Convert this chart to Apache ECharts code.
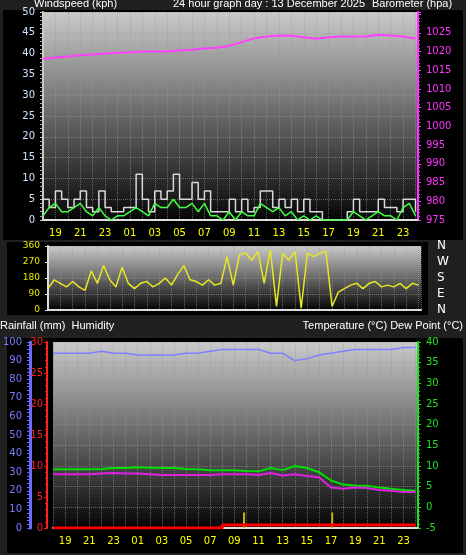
<!DOCTYPE html>
<html><head><meta charset="utf-8">
<script src="https://cdn.jsdelivr.net/npm/echarts@6/dist/echarts.min.js"></script>
<style>html,body{margin:0;background:#202020}#c{width:466px;height:555px}</style>
</head><body><div id="c"></div>
<script>
// hourly series, 18:00 day before .. 24:00
const baro = [1018,1018.4,1018.7,1019,1019.2,1019.5,1019.7,1019.8,1020,1020,1020,1020.3,1020.5,1020.8,1021,1021.5,1022.5,1023.5,1024,1024.3,1024.2,1023.8,1023.4,1023.8,1024,1024,1024,1024.5,1024.3,1024,1023.5];
const humidity = [94,94,94,94,95,94,94,93,93,93,93,94,94,95,96,96,96,96,94,94,90,91,93,94,95,96,96,96,96,97,97];
const temp = [9.2,9.2,9.2,9.2,9.3,9.5,9.5,9.7,9.6,9.5,9.5,9.3,9.2,9.0,9.0,9.0,8.8,8.7,9.5,9.0,10.0,9.5,8.5,6.5,5.5,5.3,5.2,4.8,4.5,4.2,4.0];
const dew = [8,8,8,8,8.2,8.3,8.2,8.2,8,7.8,7.8,7.8,7.8,7.8,8,8,8,7.8,8.3,7.7,8,7.6,7.3,4.8,4.5,4.8,4.7,4.2,4,3.7,3.7];
const rain = [0,0,0,0,0,0,0,0,0,0,0,0,0,0,0.5,0.5,0.5,0.5,0.5,0.5,0.5,0.5,0.5,0.5,0.5,0.5,0.5,0.5,0.5,0.5,0.5];
const rainRateTimes = [33.8, 41.1];
const rainRate = [2.5, 2.5];
// half-hourly series
const gust = [5,3,7,5,3,5,7,3,2,7,3,2, 2,3,3,11,5,2,7,5,7,11,5,5,9,5,7,2,2,2,5,2,5,2,3,7,7,3,5,3,5,2,5,2,2,0,0,0,0,2,5,2,2,2,5,3,3,2,5,5,2];
const avgWind = [1,3,4,2,2,3,4,2,1,3,1,0, 1,1,2,3,2,1,4,3,3,5,3,3,4,2,4,1,1,0,2,0,2,1,1,4,3,2,3,1,2,0,1,0,1,0,0,0,0,0,2,1,0,1,2,1,1,0,3,4,1];
const windDir = [120,170,150,130,160,130,110,220,150,250,170,130, 240,150,120,150,160,130,150,180,140,200,250,170,160,140,170,140,150,300,140,310,320,280,330,150,340,20,320,280,330,10,320,300,320,330,20,100,120,140,150,120,150,160,130,140,130,150,120,150,140];
const compass = ['N','E','S','W','N'];

const hourly = a => a.map((v, i) => [18 + i, v]);
const halfHourly = a => a.map((v, i) => [18 + i * 0.5, v]);

const bg = {type:'linear',x:0,y:0,x2:0,y2:1,colorStops:[{offset:0,color:'#cacaca'},{offset:1,color:'#050505'}]};
const dotted = {show:true,lineStyle:{color:'rgba(150,150,150,0.6)',type:'dotted'}};
function xAx(grid){
  return {type:'value',gridIndex:grid,min:18,max:48.2,interval:1,
    axisLine:{lineStyle:{color:'#ddd',width:2}},axisTick:{show:false},
    splitLine:dotted,
    axisLabel:{show:grid!==1,color:'#ffff00',fontSize:10,margin:8,
      formatter:v=>{const h=v%24;return (v%2===1)?String(h).padStart(2,'0'):'';}}};
}
function yAx(grid,o){
  return Object.assign({type:'value',gridIndex:grid,splitLine:{show:false},
    axisTick:{show:true,length:3},minorTick:{show:false}},o);
}
const txt = (x,y,t,align) => ({type:'text',left:align==='right'?null:x,right:align==='right'?x:null,top:y,
  style:{text:t,fill:'#fff',font:'11px "Liberation Sans"'}});

const chart = echarts.init(document.getElementById('c'));
chart.setOption({
  backgroundColor:'#202020',
  animation:false,
  textStyle:{fontFamily:'DejaVu Sans'},
  graphic:[
    {type:'rect',shape:{x:3,y:10,width:460,height:230},style:{fill:'#000'},z:-10},
    {type:'rect',shape:{x:7,y:242,width:421,height:73},style:{fill:'#000'},z:-10},
    {type:'rect',shape:{x:7,y:338,width:456,height:215},style:{fill:'#000'},z:-10},
    txt(34,-2,'Windspeed (kph)'),
    txt(173,-2,'24 hour graph day : 13 December 2025'),
    txt(372,-2,'Barometer (hpa)'),
    txt(0,320,'Rainfall (mm)  Humidity'),
    txt(3,320,'Temperature (°C) Dew Point (°C)','right'),
  ],
  grid:[
    {left:43,right:48,top:12,height:208,show:true,backgroundColor:bg,borderWidth:0},
    {left:48,right:45,top:246,height:64,show:true,backgroundColor:bg,borderWidth:0},
    {left:52,right:48,top:342,height:186,show:true,backgroundColor:bg,borderWidth:0},
  ],
  xAxis:[xAx(0),xAx(1),xAx(2)],
  yAxis:[
    yAx(0,{min:0,max:50,interval:5,splitLine:dotted,
      axisLine:{show:true,lineStyle:{color:'#ccc',width:2}},
      axisTick:{show:true,length:3,lineStyle:{color:'#ccc'}},
      minorTick:{show:true,splitNumber:5,length:3,lineStyle:{color:'#aaa'}},
      axisLabel:{color:'#cfe4ff',fontSize:10}}),
    yAx(0,{position:'right',min:975,max:975+50*50/45,interval:5,
      axisLine:{show:true,lineStyle:{color:'#ff33ff',width:2}},
      axisTick:{show:true,length:3,lineStyle:{color:'#ff33ff'}},
      minorTick:{show:true,splitNumber:5,length:2,lineStyle:{color:'#ff33ff'}},
      axisLabel:{color:'#ff33ff',fontSize:10,formatter:v=>v>1025?'':v}}),
    yAx(1,{min:0,max:360,interval:90,splitLine:dotted,
      axisLine:{show:true,lineStyle:{color:'#ddd',width:2}},
      axisLabel:{color:'#e8e800',fontSize:9}}),
    yAx(1,{position:'right',min:0,max:360,interval:90,offset:8,
      axisLine:{show:false},axisTick:{show:false},
      axisLabel:{color:'#fff',fontSize:12,formatter:v=>compass[v/90]}}),
    yAx(2,{position:'left',min:0,max:100,interval:10,offset:23,
      axisLine:{show:true,lineStyle:{color:'#6a6aff',width:3}},
      axisTick:{show:true,length:3,lineStyle:{color:'#6a6aff'}},
      minorTick:{show:true,splitNumber:5,length:3,lineStyle:{color:'#6a6aff'}},
      axisLabel:{color:'#7a7aff',fontSize:10}}),
    yAx(2,{position:'left',min:0,max:30,interval:5,offset:6,
      axisLine:{show:true,lineStyle:{color:'#ff2020',width:2}},
      axisTick:{show:true,length:3,lineStyle:{color:'#ff2020'}},
      minorTick:{show:true,splitNumber:5,length:2,lineStyle:{color:'#ff2020'}},
      axisLabel:{color:'#ff2020',fontSize:10,margin:4}}),
    yAx(2,{position:'right',min:-5,max:40,interval:5,splitLine:dotted,
      axisLine:{show:true,lineStyle:{color:'#20e020',width:2}},
      axisTick:{show:true,length:3,lineStyle:{color:'#20e020'}},
      minorTick:{show:true,splitNumber:5,length:2,lineStyle:{color:'#20e020'}},
      axisLabel:{color:'#20e020',fontSize:10}}),
  ],
  series:[
    {type:'line',xAxisIndex:0,yAxisIndex:1,data:hourly(baro),showSymbol:false,lineStyle:{color:'#ff40ff',width:2}},
    {type:'line',step:'end',xAxisIndex:0,yAxisIndex:0,data:halfHourly(gust),showSymbol:false,lineStyle:{color:'#d8d8d8',width:1.5}},
    {type:'line',xAxisIndex:0,yAxisIndex:0,data:halfHourly(avgWind),showSymbol:false,lineStyle:{color:'#40ff40',width:1.5}},
    {type:'line',xAxisIndex:1,yAxisIndex:2,data:halfHourly(windDir),showSymbol:false,lineStyle:{color:'#e8e820',width:1.5}},
    {type:'line',xAxisIndex:2,yAxisIndex:4,data:hourly(humidity),showSymbol:false,lineStyle:{color:'#8080ff',width:1.5}},
    {type:'line',step:'end',xAxisIndex:2,yAxisIndex:5,data:hourly(rain),showSymbol:false,lineStyle:{color:'#ff0000',width:3}},
    {type:'bar',xAxisIndex:2,yAxisIndex:5,barWidth:2,data:rainRateTimes.map((t,i)=>[t,rainRate[i]]),itemStyle:{color:'#c8b000'}},
    {type:'line',xAxisIndex:2,yAxisIndex:6,data:hourly(temp),showSymbol:false,lineStyle:{color:'#00dd00',width:2}},
    {type:'line',xAxisIndex:2,yAxisIndex:6,data:hourly(dew),showSymbol:false,lineStyle:{color:'#e020e0',width:2}},
  ]
});
</script></body></html>
